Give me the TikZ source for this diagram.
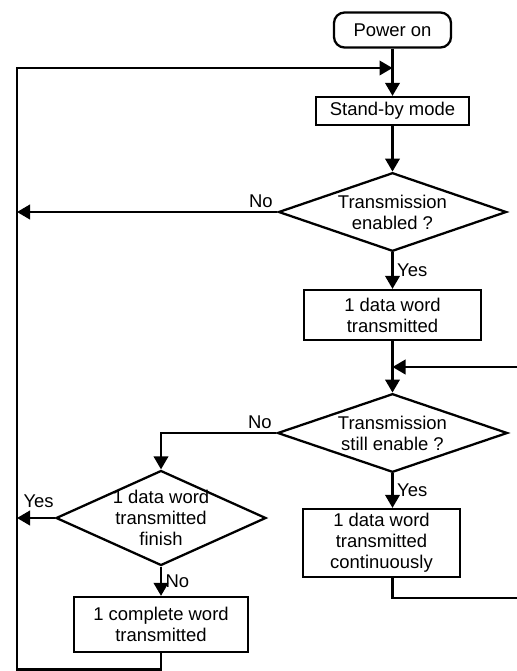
\documentclass[tikz,border=0pt]{standalone}
\usepackage{fontspec}
\setmainfont{Liberation Sans}
\usetikzlibrary{shapes.geometric,arrows.meta}
\begin{document}
\begin{tikzpicture}[
    font=\fontsize{10.5}{12}\selectfont,
    startbox/.style={draw, line width=1.3pt, rounded corners=6pt, minimum width=2.34cm, minimum height=0.70cm, align=center},
    stepbox/.style 2 args={draw, line width=1.3pt, minimum width=#1, minimum height=#2, inner sep=2pt, align=center},
    decision/.style 2 args={draw, diamond, aspect=2, line width=1.3pt, inner sep=-2pt, minimum width=#1, minimum height=#2, align=center},
    lbl/.style={inner sep=2pt},
    line/.style={line width=1.3pt},
    arrow/.style={->, line width=1.3pt, >={Triangle[length=2.6mm, width=2.9mm]}}
]
    \useasboundingbox (0,0) rectangle (10.34,-13.42);

    \node[startbox] (power) at (7.85,-0.60) {Power on};
    \node[stepbox={3.06cm}{0.56cm}] (standby) at (7.85,-2.22) {Stand-by mode};
    \node[decision={4.56cm}{1.54cm}] (enabled) at (7.85,-4.24) {Transmission\\enabled ?};
    \node[stepbox={3.54cm}{1.00cm}] (data) at (7.85,-6.30) {1 data word\\transmitted};
    \node[decision={4.60cm}{1.50cm}] (still) at (7.85,-8.66) {Transmission\\still enable ?};
    \node[stepbox={3.14cm}{1.36cm}] (cont) at (7.63,-10.86) {1 data word\\transmitted\\continuously};
    \node[decision={4.20cm}{1.90cm}] (finish) at (3.22,-10.36) {1 data word\\transmitted\\finish};
    \node[stepbox={3.48cm}{1.10cm}] (complete) at (3.22,-12.49) {1 complete word\\transmitted};

    % loop points
    \coordinate (lx) at (0.34,0);
    \coordinate (rx) at (10.42,0);
    \coordinate (top) at (7.85,-1.36);
    \coordinate (merge) at (7.85,-7.34);
    \coordinate (bot) at (0.34,-13.39);

    \draw[line] (power) -- (top);
    \draw[arrow] (top) -- (standby);
    \draw[arrow] (standby) -- (enabled);
    \draw[arrow] (enabled) -- node[lbl, right] {Yes} (data);
    \draw[line] (data) -- (merge);
    \draw[arrow] (merge) -- (still);
    \draw[arrow] (still) -- node[lbl, right] {Yes} (still.south |- cont.north);
    \draw[arrow] (finish) -- node[lbl, right] {No} (complete);

    \draw[arrow] (enabled.west) -- node[lbl, above left, pos=0] {No} (enabled.west -| lx);
    \draw[arrow] (still.west) -| node[lbl, above left, pos=0] {No} (finish.north);
    \draw[arrow] (finish.west) -- node[lbl, above left, pos=0, yshift=0.12cm, xshift=0.07cm] {Yes} (finish.west -| lx);

    \draw[arrow] (complete.south) |- (bot) |- (top);
    \draw[arrow] (cont.south -| still.south) -- ++(0,-0.40) -| (rx |- merge) -- (merge);
\end{tikzpicture}
\end{document}
